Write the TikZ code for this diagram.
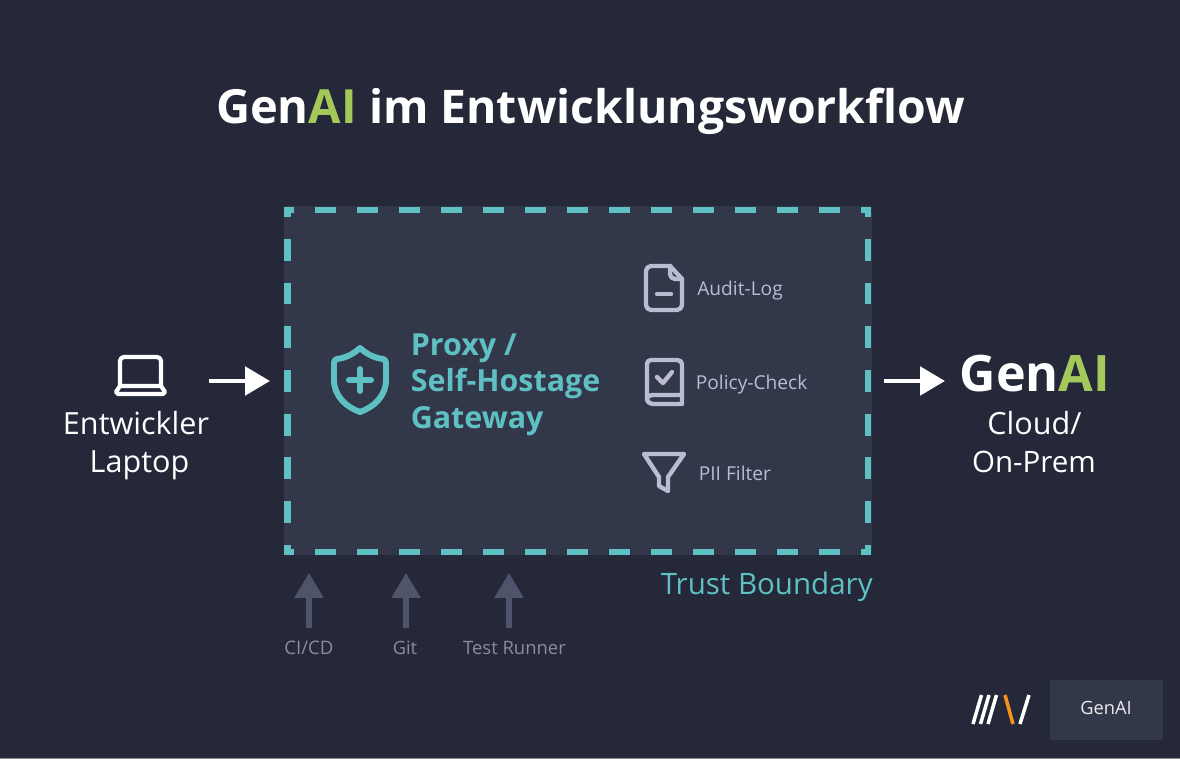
\documentclass[tikz,border=0pt]{standalone}
\usepackage{fontspec}
\setmainfont{Open Sans}
\usetikzlibrary{arrows.meta}
\definecolor{bgdark}{HTML}{252839}
\definecolor{panelgray}{HTML}{33374A}
\definecolor{teal}{HTML}{5FC0C3}
\definecolor{aigreen}{HTML}{A4C85A}
\definecolor{logoorange}{HTML}{F7931E}
\definecolor{iconlight}{HTML}{B9BCD2}
\definecolor{feedarrow}{HTML}{50546A}
\definecolor{feedtext}{HTML}{8A8D9F}
\tikzset{
    label/.style={inner sep=0pt,anchor=base},
    bigarrow/.style={white,line width=2.8pt,-{Triangle[length=14.2pt,width=16pt]}},
    feedline/.style={feedarrow,line width=3pt,-{Triangle[length=14.2pt,width=16pt]}},
    tealicon/.style={teal,line width=3.4pt,line cap=round,line join=round},
    grayicon/.style={iconlight,line width=2.5pt,line cap=round,line join=round},
    whiteicon/.style={white,line width=2.4pt,line cap=round,line join=round},
    edgedash/.style={teal,line width=3.9pt},
    slash/.style={line width=2pt},
}
\begin{document}
\begin{tikzpicture}[x=0.02cm,y=-0.02cm]
    \useasboundingbox (0,0) rectangle (1180,759);
    \fill[bgdark] (0,0) rectangle (1180,759);
    \fill[black!0!gray!90!white] (0,758) rectangle (1180,759);

    \node[label,white,font=\bfseries\fontsize{26.35}{33}\selectfont] (title) at (590.5,124)
        {{\fontsize{26.8}{33}\selectfont Gen\textcolor{aigreen}{AI}} im Entwicklungsworkﬂow};

    % gateway panel and dashed boundary
    \fill[panelgray] (284,206) rectangle (871.7,555);
    \foreach \x in {315,357,...,819}
    {
        \draw[edgedash] (\x,210) -- (\x+21,210);
        \draw[edgedash] (\x,552) -- (\x+21,552);
    }
    \foreach \y in {239,282.7,326.4,370.1,413.8,457.5,501.2}
    {
        \draw[edgedash] (287.5,\y) -- (287.5,\y+21.8);
        \draw[edgedash] (868,\y) -- (868,\y+21.8);
    }
    \draw[edgedash] (294,210) -- (287.5,210) -- (287.5,217);
    \draw[edgedash] (861,210) -- (868,210) -- (868,217);
    \draw[edgedash] (294,552) -- (287.5,552) -- (287.5,545);
    \draw[edgedash] (861,552) -- (868,552) -- (868,545);
    \node[label,anchor=base east,teal,font=\fontsize{16.8}{20}\selectfont] (trust) at (873,595) {Trust Boundary};

    % laptop
    \draw[whiteicon] (120,386) -- (120,361) to[out=90,in=180] (124,357) -- (157,357)
        to[out=0,in=90] (161,361) -- (161,386);
    \draw[whiteicon] (120,386) -- (161,386) -- (165,392) -- (163,394) -- (118,394) -- (116,392) -- cycle;
    \node[label,white,font=\fontsize{17.4}{21}\selectfont] (dev) at (136,435) {Entwickler};
    \node[label,white,font=\fontsize{17.4}{21}\selectfont] (devb) at (139.5,473) {Laptop};

    \coordinate (devout) at (209,381);
    \coordinate (gwin) at (270,381);
    \draw[bigarrow] (devout) -- (gwin);

    % shield
    \draw[tealicon] (360,348) .. controls (352,355) and (345,358) .. (337,359)
        .. controls (335,359) and (334,361) .. (334,363) -- (334,380)
        .. controls (334,396) and (346,407) .. (360,412)
        .. controls (374,407) and (386,396) .. (386,380) -- (386,363)
        .. controls (386,361) and (385,359) .. (383,359)
        .. controls (375,358) and (368,355) .. (360,348) -- cycle;
    \draw[tealicon] (349,380) -- (371,380);
    \draw[tealicon] (360,369) -- (360,391);
    \node[anchor=west,inner sep=0pt,align=left,teal,font=\bfseries\fontsize{17.3}{20.8}\selectfont] (gw) at (410.5,384.5)
        {Proxy /\\Self-Hostage\\Gateway};

    % audit log
    \draw[grayicon] (670,266) -- (651,266) to[out=180,in=90] (646,271) -- (646,305)
        to[out=-90,in=180] (651,310) -- (677,310) to[out=0,in=-90] (682,305) -- (682,279) -- (670,266);
    \draw[grayicon] (670,266) -- (670,274) to[out=-90,in=180] (675,279) -- (682,279);
    \draw[grayicon] (657,294) -- (671,294);
    \node[label,anchor=base west,iconlight,font=\fontsize{10.9}{13}\selectfont] (audit) at (697,296) {Audit-Log};

    % policy check
    \draw[grayicon] (651,360) -- (677,360) to[out=0,in=90] (682,364) -- (682,404) -- (654,404)
        to[out=180,in=-90] (647,399) -- (647,364) to[out=90,in=180] (651,360);
    \draw[grayicon] (647,399) to[out=90,in=180] (654,395) -- (682,395);
    \draw[grayicon] (657,377) -- (663,383) -- (672,372);
    \node[label,anchor=base west,iconlight,font=\fontsize{10.9}{13}\selectfont] (policy) at (695.5,390) {Policy-Check};

    % pii filter
    \draw[grayicon] (644,454) -- (684,454) -- (668,477) -- (668,491) -- (659,486) -- (659,477) -- cycle;
    \node[label,anchor=base west,iconlight,font=\fontsize{10.9}{13}\selectfont] (pii) at (698.5,481) {PII Filter};

    % target
    \coordinate (gwout) at (884,381);
    \coordinate (aiin) at (945,381);
    \draw[bigarrow] (gwout) -- (aiin);
    \node[label,white,font=\bfseries\fontsize{28.6}{34}\selectfont] (genai) at (1035,392)
        {Gen\textcolor{aigreen}{AI}};
    \node[label,white,font=\fontsize{17.4}{21}\selectfont] (cloud) at (1034.5,434.5) {Cloud/};
    \node[label,white,font=\fontsize{16.8}{21}\selectfont] (prem) at (1034,472.5) {On-Prem};

    % feeds below the boundary
    \foreach \x/\n in {309/cicd,406/git,509/runner}
    {
        \coordinate (\n from) at (\x,628);
        \coordinate (\n to) at (\x,573);
        \draw[feedline] (\n from) -- (\n to);
    }
    \node[label,feedtext,font=\fontsize{10.6}{13}\selectfont] (cicd) at (309,655) {CI/CD};
    \node[label,feedtext,font=\fontsize{10.4}{13}\selectfont] (git) at (405,655) {Git};
    \node[label,feedtext,font=\fontsize{10.5}{13}\selectfont] (runner) at (514.5,655) {Test Runner};

    % logo and badge
    \foreach \x in {973,980.5,988}
        \draw[slash,white] (\x,724) -- (\x+8.5,695);
    \draw[slash,logoorange] (1005,695) -- (1013,724);
    \draw[slash,white] (1020,724) -- (1029,695);
    \fill[panelgray] (1050,680) rectangle (1163,740);
    \node[label,white!90!panelgray,font=\fontsize{10.4}{13}\selectfont] (badge) at (1106,715) {GenAI};
\end{tikzpicture}
\end{document}
